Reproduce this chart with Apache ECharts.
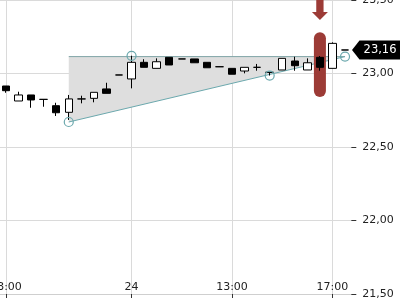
<!DOCTYPE html>
<html>
<head>
<meta charset="utf-8">
<script src="https://cdn.jsdelivr.net/npm/echarts@6/dist/echarts.min.js"></script>
<style>html,body{margin:0;padding:0;background:#fff;}#c{width:400px;height:300px;}</style>
</head>
<body>
<div id="c"></div>
<script>
// 30-minute candles: 23rd 13:00..17:30, 24th 09:00..17:30
const categories = ['13:00','13:30','14:00','14:30','15:00','15:30','16:00','16:30','17:00','17:30',
  '24','09:30','10:00','10:30','11:00','11:30','12:00','12:30','13:00','13:30','14:00','14:30','15:00','15:30','16:00','16:30','17:00','17:30'];
const tickLabelIndex = [0, 10, 18, 26];
// [open, close, low, high]
const opens  = [22.915,22.813,22.854,22.824,22.781,22.736,22.827,22.831,22.895,22.990,22.963,23.076,23.035,23.110,23.099,23.099,23.076,23.046,23.035,23.017,23.042,23.008,23.024,23.085,23.024,23.110,23.035,23.160];
const closes = [22.883,22.854,22.820,22.824,22.733,22.827,22.827,22.872,22.865,22.990,23.076,23.042,23.080,23.058,23.099,23.073,23.039,23.046,22.995,23.042,23.042,23.008,23.103,23.053,23.073,23.042,23.205,23.160];
const lows   = [22.869,22.813,22.767,22.774,22.711,22.684,22.797,22.804,22.865,22.990,22.899,23.042,23.035,23.058,23.099,23.073,23.039,23.046,22.995,23.001,23.019,22.986,23.024,23.019,23.024,23.019,23.035,23.160];
const highs  = [22.915,22.876,22.854,22.824,22.801,22.854,22.849,22.872,22.937,22.990,23.121,23.097,23.103,23.110,23.099,23.099,23.076,23.046,23.035,23.042,23.065,23.008,23.103,23.114,23.103,23.119,23.212,23.160];
const yTicks = [21.5, 22.0, 22.5, 23.0, 23.5];
const lastPrice = 23.16;
// pattern (triangle)
const triangleIdx = [5, 27, 5];
const triangleVal = [23.115, 23.115, 22.67];
const upperLineIdx = [5, 27];
const upperLineVal = [23.115, 23.115];
const lowerLineIdx = [5, 27];
const lowerLineVal = [22.67, 23.115];
const circleIdx = [5, 10, 21, 27];
const circleVal = [22.67, 23.12, 22.986, 23.115];
// highlighted candle
const highlightIdx = [25];
const highlightLow = [22.84];
const highlightHigh = [23.28];
const arrowIdx = [25];
const arrowVal = [23.432];

const candleData = opens.map((o, i) => [o, closes[i], lows[i], highs[i]]);
const fmt = v => v.toFixed(2).replace('.', ',');
const TEAL = '#6ba8ad';

const chart = echarts.init(document.getElementById('c'), null, {renderer: 'canvas'});
chart.setOption({
  animation: false,
  backgroundColor: '#fff',
  grid: {left: -0.3, right: 48.7, top: 0, bottom: 6, containLabel: false, outerBoundsMode: 'none'},
  xAxis: {
    type: 'category',
    data: categories,
    boundaryGap: true,
    axisLine: {show: true, lineStyle: {color: '#cfcfcf', width: 1}},
    axisTick: {show: true, alignWithLabel: true, length: 4, lineStyle: {color: '#333'},
      interval: (i) => tickLabelIndex.includes(i)},
    axisLabel: {inside: true, margin: 1, color: '#222', fontSize: 11, fontFamily: 'DejaVu Sans',
      interval: (i) => tickLabelIndex.includes(i)},
    splitLine: {show: true, alignWithLabel: true, lineStyle: {color: '#dadada', width: 1},
      interval: (i) => tickLabelIndex.includes(i)}
  },
  yAxis: {
    type: 'value',
    position: 'right',
    min: yTicks[0], max: yTicks[yTicks.length - 1], interval: 0.5,
    scale: true,
    axisLine: {show: false},
    axisTick: {show: true, length: 5, lineStyle: {color: '#333'}},
    axisLabel: {margin: 11, color: '#222', fontSize: 11, fontFamily: 'DejaVu Sans', formatter: fmt},
    splitLine: {show: true, lineStyle: {color: '#dadada', width: 1}}
  },
  series: [
    {
      type: 'custom',
      z: 1,
      silent: true,
      data: [0],
      renderItem: (params, api) => {
        const pts = triangleIdx.map((ix, k) => api.coord([ix, triangleVal[k]]));
        return {type: 'polygon', shape: {points: pts}, style: {fill: '#dedede'}};
      }
    },
    {
      type: 'line', z: 2, symbol: 'none', silent: true,
      data: upperLineIdx.map((ix, k) => [ix, upperLineVal[k]]),
      lineStyle: {color: '#7fa4a6', width: 1}
    },
    {
      type: 'line', z: 2, symbol: 'none', silent: true,
      data: lowerLineIdx.map((ix, k) => [ix, lowerLineVal[k]]),
      lineStyle: {color: TEAL, width: 1}
    },
    {
      type: 'custom',
      z: 3,
      silent: true,
      data: highlightIdx.map((ix, k) => [ix, highlightLow[k], highlightHigh[k]]),
      renderItem: (params, api) => {
        const top = api.coord([api.value(0), api.value(2)]);
        const bot = api.coord([api.value(0), api.value(1)]);
        const w = 12;
        return {type: 'rect', shape: {x: top[0] - w / 2, y: top[1], width: w, height: bot[1] - top[1], r: 6},
          style: {fill: '#9c3b36'}};
      }
    },
    {
      type: 'candlestick',
      z: 4,
      barWidth: 8,
      data: candleData,
      itemStyle: {color: '#ffffff', color0: '#000000', borderColor: '#000000', borderColor0: '#000000', borderWidth: 1}
    },
    {
      type: 'scatter', z: 5, silent: true,
      symbol: 'circle', symbolSize: 9,
      data: circleIdx.map((ix, k) => [ix, circleVal[k]]),
      itemStyle: {color: 'rgba(255,255,255,0)', borderColor: TEAL, borderWidth: 1.2, opacity: 1}
    },
    {
      type: 'scatter', z: 5, silent: true,
      symbol: 'path://M4.35,0 L11.65,0 L11.65,12 L16,12 L8,20 L0,12 L4.35,12 Z',
      symbolSize: [16, 20], symbolKeepAspect: false,
      data: arrowIdx.map((ix, k) => [ix, arrowVal[k]]),
      itemStyle: {color: '#9c3b36', opacity: 1}
    },
    {
      type: 'scatter', z: 6, silent: true,
      symbol: 'path://M0,10 L8,0 L60,0 L60,20 L8,20 Z',
      symbolSize: [56, 19], symbolKeepAspect: false,
      symbolOffset: [35, 0],
      data: [[categories.length - 1, lastPrice]],
      itemStyle: {color: '#000', opacity: 1},
      label: {show: true, position: 'inside', offset: [0, 0], color: '#fff', fontSize: 11.5,
        fontFamily: 'DejaVu Sans', formatter: () => fmt(lastPrice)}
    }
  ]
});
</script>
</body>
</html>
